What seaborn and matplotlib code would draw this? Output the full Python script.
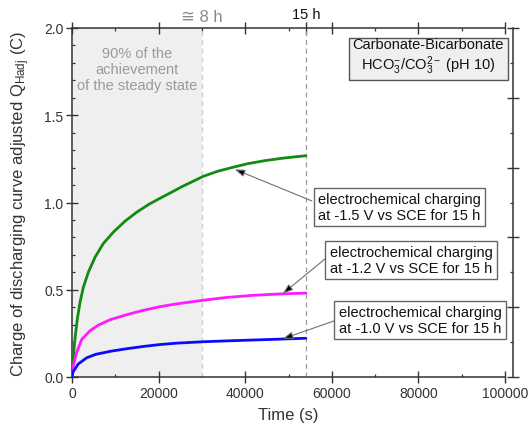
import numpy as np
import pandas as pd
import matplotlib
matplotlib.use("Agg")
import matplotlib.pyplot as plt
from matplotlib.ticker import MultipleLocator, FixedLocator
import seaborn as sns

# ---- data: charge of discharging curve vs. charging time ----
t_15V = [0, 180, 460, 770, 1230, 1850, 2620, 3770, 5310, 7240, 9540, 12240,
         14930, 17860, 20000, 22170, 25330, 30330, 33500, 36880, 40500, 44570,
         49000, 54000]
q_15V = [0, 0.085, 0.160, 0.237, 0.332, 0.428, 0.514, 0.600, 0.686, 0.765,
         0.830, 0.893, 0.944, 0.991, 1.020, 1.048, 1.090, 1.150, 1.178, 1.200,
         1.222, 1.240, 1.255, 1.268]

t_12V = [0, 100, 300, 1080, 2240, 4160, 6000, 8780, 12630, 16470, 20320,
         24180, 30330, 35730, 41870, 48040, 54000]
q_12V = [0, 0.035, 0.065, 0.141, 0.215, 0.265, 0.296, 0.328, 0.357, 0.382,
         0.403, 0.419, 0.440, 0.456, 0.468, 0.476, 0.481]

t_10V = [0, 100, 300, 1460, 3390, 5500, 8780, 12630, 16470, 20320, 24180,
         30330, 35730, 41870, 48040, 54000]
q_10V = [0, 0.018, 0.032, 0.075, 0.110, 0.130, 0.147, 0.162, 0.175, 0.186,
         0.194, 0.202, 0.207, 0.212, 0.217, 0.222]

series_names = ["-1.5 V", "-1.2 V", "-1.0 V"]
series_colors = ["#138a13", "#ff1aff", "#0a0aff"]

t_steady = 30000      # ~8 h
t_end = 54000         # 15 h
top_labels = ["\u2245 8 h", "15 h"]

label_15V = "electrochemical charging\nat -1.5 V vs SCE for 15 h"
label_12V = "electrochemical charging\nat -1.2 V vs SCE for 15 h"
label_10V = "electrochemical charging\nat -1.0 V vs SCE for 15 h"

df = pd.concat([
    pd.DataFrame({"t": t_15V, "q": q_15V, "run": series_names[0]}),
    pd.DataFrame({"t": t_12V, "q": q_12V, "run": series_names[1]}),
    pd.DataFrame({"t": t_10V, "q": q_10V, "run": series_names[2]}),
], ignore_index=True)

# ---- style ----
sns.set_theme(style="ticks")
plt.rcParams["font.family"] = ["Liberation Sans", "DejaVu Sans"]
plt.rcParams["mathtext.fontset"] = "custom"
plt.rcParams["mathtext.rm"] = "Liberation Sans"
plt.rcParams["mathtext.it"] = "Liberation Sans:italic"
plt.rcParams["mathtext.bf"] = "Liberation Sans:bold"

ink = "#333333"
fig = plt.figure(figsize=(5.28, 4.35), dpi=100)
ax = fig.add_axes([72 / 528, 57 / 435, 433 / 528, 349 / 435])

# shaded region up to the steady state
ax.axvspan(0, t_steady, color="#efefef", zorder=0, lw=0)
ax.axvline(t_steady, color="#cfcfcf", ls=(0, (4, 3)), lw=0.9, zorder=1)
ax.axvline(t_end, color="#9a9a9a", ls=(0, (4, 3)), lw=0.9, zorder=1)

sns.lineplot(data=df, x="t", y="q", hue="run", hue_order=series_names,
             palette=series_colors, estimator=None, sort=True, lw=2.0,
             legend=False, ax=ax, zorder=3, solid_joinstyle="round")

ax.set_xlim(0, 100000)
ax.set_ylim(0, 2.0)
ax.xaxis.set_major_locator(MultipleLocator(20000))
ax.xaxis.set_minor_locator(MultipleLocator(10000))
ax.yaxis.set_major_locator(MultipleLocator(0.5))
ax.yaxis.set_minor_locator(MultipleLocator(0.1))
ax.yaxis.set_major_formatter(matplotlib.ticker.FormatStrFormatter("%.1f"))

for s in ["left", "bottom", "top"]:
    ax.spines[s].set_color(ink)
    ax.spines[s].set_linewidth(1.1)
ax.spines["right"].set_visible(False)

ax.tick_params(which="major", direction="inout", length=8.5, width=1.0,
               color=ink, labelcolor=ink, labelsize=10, top=True, right=False)
ax.tick_params(which="minor", direction="in", length=2.5, width=0.9,
               color=ink, top=True, right=False)
ax.tick_params(axis="x", which="major", pad=2)
ax.tick_params(axis="y", which="major", pad=2)

ax.set_xlabel("Time (s)", fontsize=12, color=ink)
ax.set_ylabel(r"Charge of discharging curve adjusted Q$_{\mathrm{Hadj}}$ (C)",
              fontsize=12, color=ink)
ax.xaxis.set_label_coords(0.5, -0.085)
ax.yaxis.set_label_coords(-0.092, 0.5)

# extra top tick at 15 h
sec = ax.secondary_xaxis("top")
sec.xaxis.set_major_locator(FixedLocator([t_end]))
sec.set_xticklabels([])
sec.tick_params(which="major", direction="inout", length=8.5, width=1.0,
                color=ink)
sec.spines["top"].set_visible(False)

ax.annotate(top_labels[0], xy=(t_steady, 1.0), xycoords=("data", "axes fraction"),
            xytext=(0, 3), textcoords="offset points", ha="center", va="bottom",
            fontsize=12, color="#8c8c8c")
ax.annotate(top_labels[1], xy=(t_end, 1.0), xycoords=("data", "axes fraction"),
            xytext=(0, 5), textcoords="offset points", ha="center", va="bottom",
            fontsize=10.5, color="#111111")

# right-hand axis, offset outward
ax2 = ax.twinx()
ax2.set_ylim(0, 2.0)
ax2.yaxis.set_major_locator(MultipleLocator(0.4))
ax2.yaxis.set_minor_locator(MultipleLocator(0.2))
for s in ["left", "bottom", "top"]:
    ax2.spines[s].set_visible(False)
ax2.spines["right"].set_position(("outward", 6))
ax2.spines["right"].set_color(ink)
ax2.spines["right"].set_linewidth(1.1)
ax2.tick_params(which="major", direction="inout", length=8.5, width=1.0,
                color=ink, labelright=False)
ax2.tick_params(which="minor", direction="in", length=2.5, width=0.9, color=ink)

# annotations
ax.text(15000, 1.765, "90% of the\nachievement\nof the steady state",
        ha="center", va="center", fontsize=10.5, color="#9a9a9a",
        linespacing=1.15, zorder=2)

ax.text(82300, 1.835,
        "Carbonate-Bicarbonate\n" + r"HCO$_3^{-}$/CO$_3^{2-}$ (pH 10)",
        ha="center", va="center", fontsize=10.5, color="#111111",
        multialignment="center", linespacing=1.15, zorder=5,
        bbox=dict(boxstyle="square,pad=0.25", fc="#efefef", ec="#555555", lw=1.0))

box_kw = dict(boxstyle="square,pad=0.3", fc="white", ec="#666666", lw=1.0)
ax.text(75600, 0.974, label_15V, ha="center", va="center", fontsize=10.5,
        color="#111111", linespacing=1.15, bbox=box_kw, zorder=5)
ax.text(78300, 0.670, label_12V, ha="center", va="center", fontsize=10.5,
        color="#111111", linespacing=1.15, bbox=box_kw, zorder=5)
ax.text(80400, 0.327, label_10V, ha="center", va="center", fontsize=10.5,
        color="#111111", linespacing=1.15, bbox=box_kw, zorder=5)

arrow_kw = dict(arrowstyle="-|>,head_length=0.5,head_width=0.18",
                fc="black", ec="#707070", lw=0.8, shrinkA=0, shrinkB=0)
ax.annotate("", xy=(37600, 1.190), xytext=(55400, 1.009), arrowprops=arrow_kw,
            zorder=4)
ax.annotate("", xy=(48700, 0.478), xytext=(58400, 0.676), arrowprops=arrow_kw,
            zorder=4)
ax.annotate("", xy=(48700, 0.219), xytext=(60500, 0.321), arrowprops=arrow_kw,
            zorder=4)

fig.savefig("out.png", dpi=100)
